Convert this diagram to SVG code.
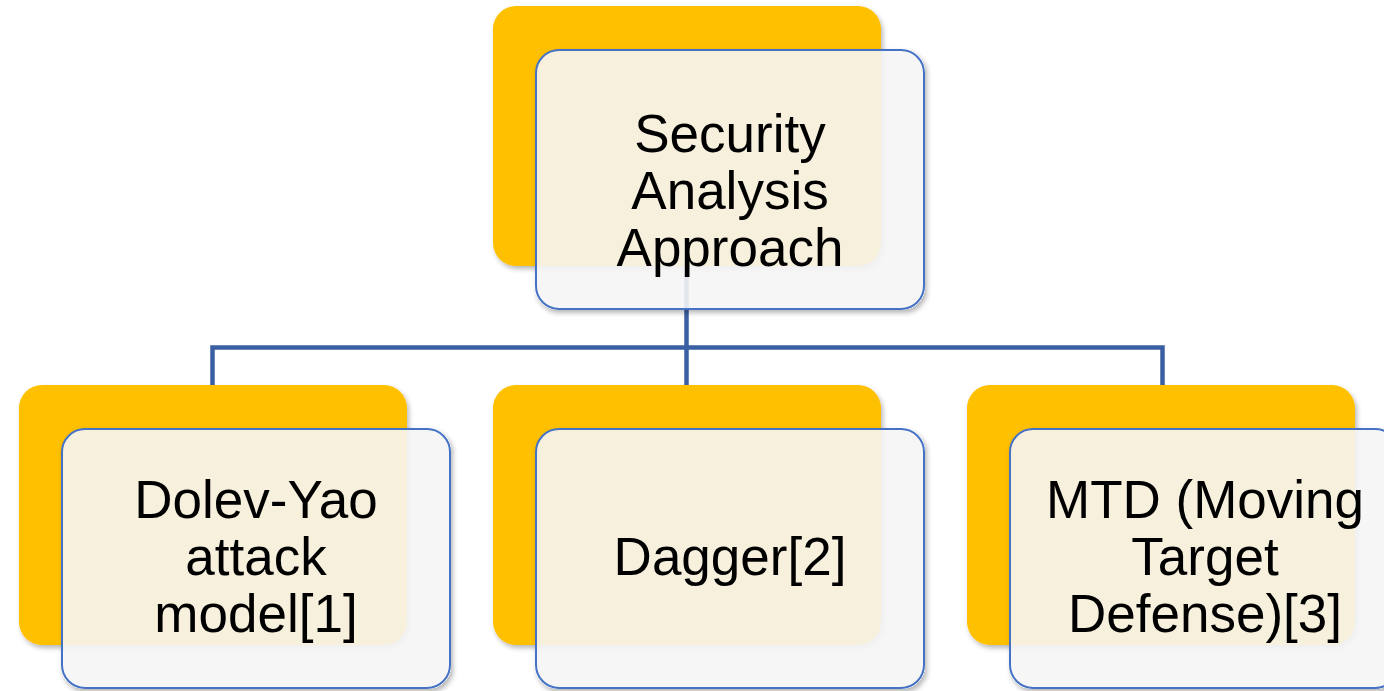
<svg xmlns="http://www.w3.org/2000/svg" width="1384" height="691" viewBox="0 0 1384 691">
  <defs>
    <filter id="shadow" x="-10%" y="-10%" width="125%" height="130%">
      <feDropShadow dx="2" dy="3" stdDeviation="2.5" flood-color="#000" flood-opacity="0.28"/>
    </filter>
    <!-- outer-only shadow so it does not tint the translucent card -->
    <filter id="shadowOut" x="-10%" y="-10%" width="125%" height="130%">
      <feComponentTransfer in="SourceAlpha" result="solid">
        <feFuncA type="linear" slope="20"/>
      </feComponentTransfer>
      <feGaussianBlur in="solid" stdDeviation="2.5"/>
      <feOffset dx="2" dy="3" result="blur"/>
      <feFlood flood-color="#000" flood-opacity="0.28"/>
      <feComposite in2="blur" operator="in"/>
      <feComposite in2="solid" operator="out" result="sh"/>
      <feMerge>
        <feMergeNode in="sh"/>
        <feMergeNode in="SourceGraphic"/>
      </feMerge>
    </filter>
    <style>
      .back { fill: #FFC000; filter: url(#shadow); }
      .front { fill: #F5F5F5; fill-opacity: 0.9; stroke: #4472C4; stroke-width: 2; filter: url(#shadowOut); }
      .label { font-family: "Liberation Sans", Arial, sans-serif; font-size: 53px; fill: #000; text-anchor: middle; }
      .link { fill: none; stroke: #3B5FA3; stroke-width: 4.5; }
    </style>
  </defs>
  <rect width="1384" height="691" fill="#FFFFFF"/>

  <!-- tree connectors -->
  <g id="connectors">
    <path class="link" d="M686.5 260 V347.5"/>
    <path class="link" d="M212.5 385 V347.5 H1162.5 V385"/>
    <path class="link" d="M686.5 347.5 V385"/>
  </g>

  <!-- root -->
  <g id="node-root">
    <rect class="back" x="493" y="6" width="388" height="260" rx="23"/>
    <rect class="front" x="536" y="50" width="388" height="259" rx="23"/>
    <text class="label" x="730" y="152">Security</text>
    <text class="label" x="730" y="209">Analysis</text>
    <text class="label" x="730" y="266">Approach</text>
  </g>

  <!-- children -->
  <g id="node-dolev-yao">
    <rect class="back" x="19" y="385" width="388" height="260" rx="23"/>
    <rect class="front" x="62" y="429" width="388" height="259" rx="23"/>
    <text class="label" x="256" y="518">Dolev-Yao</text>
    <text class="label" x="256" y="575">attack</text>
    <text class="label" x="256" y="632">model[1]</text>
  </g>

  <g id="node-dagger">
    <rect class="back" x="493" y="385" width="388" height="260" rx="23"/>
    <rect class="front" x="536" y="429" width="388" height="259" rx="23"/>
    <text class="label" x="730" y="575">Dagger[2]</text>
  </g>

  <g id="node-mtd">
    <rect class="back" x="967" y="385" width="388" height="260" rx="23"/>
    <rect class="front" x="1010" y="429" width="388" height="259" rx="23"/>
    <text class="label" x="1205" y="518">MTD (Moving</text>
    <text class="label" x="1205" y="575">Target</text>
    <text class="label" x="1205" y="632">Defense)[3]</text>
  </g>
</svg>
